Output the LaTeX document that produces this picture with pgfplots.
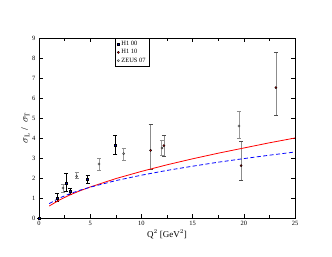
\documentclass[border=0pt]{standalone}
\usepackage{pgfplots}
\pgfplotsset{compat=1.18}
\usepackage{fontspec}
\setmainfont{Liberation Serif}
\begin{document}
\begin{tikzpicture}
\useasboundingbox (-39bp,-39bp) rectangle (293bp,218bp);
\begin{axis}[
  at={(0,0)}, anchor=south west,
  scale only axis, width=256bp, height=180bp,
  xmin=0, xmax=25, ymin=0, ymax=9,
  xtick={0,5,...,25}, ytick={0,1,...,9},
  minor x tick num=1,
  tick align=inside,
  major tick length=4bp, minor tick length=2.5bp,
  tick style={black, line width=0.4pt},
  every tick label/.append style={font=\fontsize{6.5}{7}\selectfont},
  /pgf/number format/assume math mode=true,
  xlabel={Q$^2$ [GeV$^2$]},
  ylabel={$\sigma_{\mathrm{L}}$\ /\ \ $\sigma_{\mathrm{T}}$},
  xlabel style={font=\fontsize{9}{10}\selectfont, yshift=3bp},
  ylabel style={font=\fontsize{10}{11}\selectfont, yshift=-4bp},
  axis line style={line width=0.5pt},
  clip=false,
  legend style={at={(0.297,1)}, anchor=north west, font=\fontsize{6.5}{7}\selectfont,
    draw=black, line width=0.4pt, inner xsep=2pt, inner ysep=1pt, row sep=-1.5pt,
    legend cell align=left},
  legend image code/.code={\draw[#1] plot coordinates {(0.22cm,0cm)};},
]
% H1 00
\addplot+[only marks, mark=square*, mark size=1.0pt, black,
  error bars/.cd, y dir=both, y explicit,
  error bar style={black, line width=0.6pt},
  error mark options={rotate=90, mark size=2pt, black, line width=0.5pt}]
  table[x=x, y=y, y error plus=ep, y error minus=em] {
x y ep em
0 0 0 0
1.76 1.00 0.25 0.15
2.64 1.75 0.47 0.40
3.03 1.36 0.14 0.16
4.75 1.92 0.23 0.17
7.45 3.65 0.50 0.45
};
\addlegendentry{H1 00}
% H1 10
\addplot+[only marks, mark=*, mark size=1.1pt, black,
  error bars/.cd, y dir=both, y explicit,
  error bar style={black!45, line width=0.8pt},
  error mark options={rotate=90, mark size=2pt, black!70, line width=0.5pt}]
  table[x=x, y=y, y error plus=ep, y error minus=em] {
x y ep em
10.9 3.38 1.32 0.96
12.2 3.62 0.53 0.52
19.73 2.62 1.20 0.74
23.14 6.52 1.78 1.37
};
\addlegendentry{H1 10}
% ZEUS 07
\addplot+[only marks, mark=o, mark size=1.1pt, black!80, mark options={line width=0.4pt},
  error bars/.cd, y dir=both, y explicit,
  error bar style={black!40, line width=0.8pt},
  error mark options={rotate=90, mark size=2pt, black!45, line width=0.5pt}]
  table[x=x, y=y, y error plus=ep, y error minus=em] {
x y ep em
2.34 1.50 0.20 0.20
3.68 2.08 0.20 0.11
5.86 2.70 0.30 0.30
8.27 3.22 0.28 0.34
12.0 3.50 0.40 0.35
19.53 4.60 0.73 0.63
};
\addlegendentry{ZEUS 07}
% curves
\addplot[red, line width=0.8pt, forget plot] coordinates {
(1,0.60) (2,0.90) (3,1.15) (4,1.36) (5,1.55) (7.5,1.97) (10,2.33) (12.5,2.66)
(15,2.96) (17.5,3.24) (20,3.50) (22.5,3.76) (25,4.00)};
\addplot[blue, line width=0.8pt, dashed, dash pattern=on 4pt off 2.5pt, forget plot] coordinates {
(1,0.72) (2,1.00) (3,1.21) (4,1.39) (5,1.54) (7.5,1.87) (10,2.14) (12.5,2.38)
(15,2.59) (17.5,2.79) (20,2.97) (22.5,3.14) (25,3.30)};
\end{axis}
\end{tikzpicture}
\end{document}
